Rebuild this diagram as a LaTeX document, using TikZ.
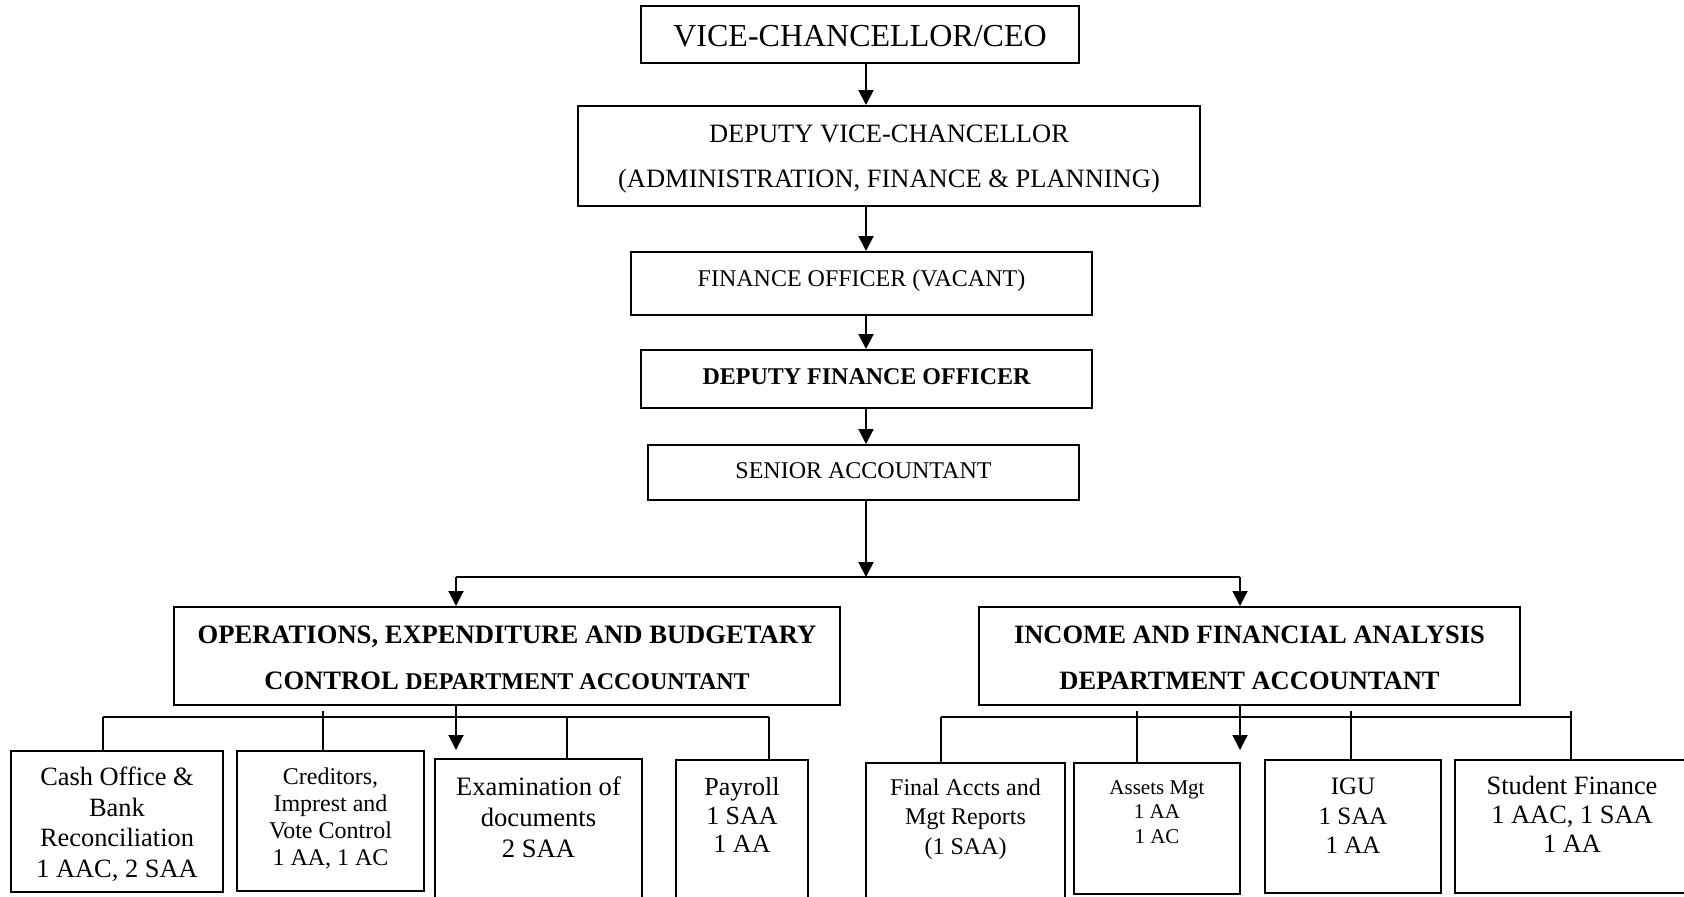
\documentclass[tikz,border=0pt]{standalone}
\usepackage{fontspec}
\setmainfont{Liberation Serif}
\usetikzlibrary{arrows.meta}
\newcommand\fsz[2]{\fontsize{#1}{#2}\selectfont}
\begin{document}
\begin{tikzpicture}[x=0.5pt,y=-0.5pt,
  box/.style={draw,line width=1pt,inner sep=0pt,align=center},
  arr/.style={line width=1pt,-{Triangle[length=7.5pt,width=7.5pt]}},
  ln/.style={line width=1pt},
  lbl/.style={anchor=north,align=center,inner sep=0pt},
  mid/.style={anchor=center,align=center,inner sep=0pt}]
\useasboundingbox (0,0) rectangle (1684,896);
\clip (0,0) rectangle (1684,896);
% top chain
\node[box,minimum width=219pt,minimum height=28.5pt,label={[mid,font=\fsz{16}{19},yshift=-1pt]center:{VICE-CHANCELLOR/CEO}}] (vc) at (860,34.5) {};
\node[box,minimum width=311pt,minimum height=50pt,label={[mid,font=\fsz{13.25}{22.5},yshift=-1.6pt]center:{DEPUTY VICE-CHANCELLOR\\(ADMINISTRATION, FINANCE \& PLANNING)}}] (dvc) at (889,156) {};
\node[box,minimum width=230.5pt,minimum height=31.5pt,label={[mid,font=\fsz{12}{14},yshift=1.6pt]center:{FINANCE OFFICER (VACANT)}}] (fo) at (861.5,283.5) {};
\node[box,minimum width=225.5pt,minimum height=29pt,label={[mid,font=\fsz{12}{14}\bfseries,yshift=1.1pt]center:{DEPUTY FINANCE OFFICER}}] (dfo) at (866.5,379) {};
\node[box,minimum width=215.5pt,minimum height=27.5pt,label={[mid,font=\fsz{12}{14},yshift=1.1pt]center:{SENIOR ACCOUNTANT}}] (sa) at (863.5,472.5) {};
% departments
\node[box,minimum width=333pt,minimum height=49pt,label={[mid,font=\fsz{13.3}{23}\bfseries,yshift=-1.1pt]center:{OPERATIONS, EXPENDITURE AND BUDGETARY\\CONTROL {\fsz{12}{23}\bfseries DEPARTMENT ACCOUNTANT}}}] (ops) at (507,656) {};
\node[box,minimum width=270.5pt,minimum height=49pt,label={[mid,font=\fsz{13.25}{23}\bfseries,yshift=-1.1pt]center:{INCOME AND FINANCIAL ANALYSIS\\DEPARTMENT ACCOUNTANT}}] (inc) at (1249.5,656) {};
% units
\node[box,minimum width=106pt,minimum height=70.5pt,label={[lbl,font=\fsz{13.2}{15.3},yshift=-8.3pt]north:{Cash Office \&\\Bank\\Reconciliation\\1 AAC, 2 SAA}}] (cash) at (117,821.5) {};
\node[box,minimum width=93.5pt,minimum height=70pt,label={[lbl,font=\fsz{12}{13.6},yshift=-8.5pt]north:{Creditors,\\Imprest and\\Vote Control\\1 AA, 1 AC}}] (cred) at (330.5,821) {};
\node[box,minimum width=103.5pt,minimum height=75.5pt,label={[lbl,font=\fsz{13.3}{15.5},yshift=-9pt]north:{Examination of\\documents\\2 SAA}}] (exam) at (538.5,834.5) {};
\node[box,minimum width=66pt,minimum height=75pt,label={[lbl,font=\fsz{13}{14.3},yshift=-9pt]north:{Payroll\\1 SAA\\1 AA}}] (pay) at (742,835) {};
\node[box,minimum width=99.5pt,minimum height=73.5pt,label={[lbl,font=\fsz{12}{14.8},yshift=-8pt]north:{Final Accts and\\Mgt Reports\\(1 SAA)}}] (final) at (965.5,836.5) {};
\node[box,minimum width=83pt,minimum height=65.5pt,label={[lbl,font=\fsz{10.5}{12.3},yshift=-9pt]north:{Assets Mgt\\1 AA\\1 AC}}] (assets) at (1157,828.5) {};
\node[box,minimum width=88pt,minimum height=66.5pt,label={[lbl,font=\fsz{12.5}{14.6},yshift=-9.5pt]north:{IGU\\1 SAA\\1 AA}}] (igu) at (1353,826.5) {};
\node[box,minimum width=117pt,minimum height=66.5pt,label={[lbl,font=\fsz{13.2}{14.5},yshift=-8.5pt]north:{Student Finance\\1 AAC, 1 SAA\\1 AA}}] (stud) at (1572,826.5) {};
% spine
\coordinate (spine) at (866,0);
\draw[arr] (vc.south -| spine) -- (dvc.north -| spine);
\draw[arr] (dvc.south -| spine) -- (fo.north -| spine);
\draw[arr] (fo.south -| spine) -- (dfo.north -| spine);
\draw[arr] (dfo.south -| spine) -- (sa.north -| spine);
\coordinate (jL) at (456,577);
\coordinate (jR) at (1240,577);
\draw[arr] (sa.south -| spine) -- (spine |- jL);
\draw[ln] (jL) -- (jR);
\draw[arr] (jL) -- (ops.north -| jL);
\draw[arr] (jR) -- (inc.north -| jR);
% operations branch
\coordinate (oArr) at (456,750);
\draw[arr] (ops.south -| oArr) -- (oArr);
\coordinate (oL) at (103,717);
\coordinate (oR) at (769,717);
\coordinate (oC) at (323,711);
\coordinate (oE) at (567,717);
\draw[ln] (oL) -- (oR);
\draw[ln] (oL) -- (cash.north -| oL);
\draw[ln] (oC) -- (cred.north -| oC);
\draw[ln] (oE) -- (exam.north -| oE);
\draw[ln] (oR) -- (pay.north -| oR);
% income branch
\coordinate (iArr) at (1240,750);
\draw[arr] (inc.south -| iArr) -- (iArr);
\coordinate (iL) at (941,717);
\coordinate (iR) at (1571,717);
\coordinate (iA) at (1137,711);
\coordinate (iG) at (1351,711);
\coordinate (iS) at (1571,711);
\draw[ln] (iL) -- (iR);
\draw[ln] (iL) -- (final.north -| iL);
\draw[ln] (iA) -- (assets.north -| iA);
\draw[ln] (iG) -- (igu.north -| iG);
\draw[ln] (iS) -- (stud.north -| iS);
\end{tikzpicture}
\end{document}
